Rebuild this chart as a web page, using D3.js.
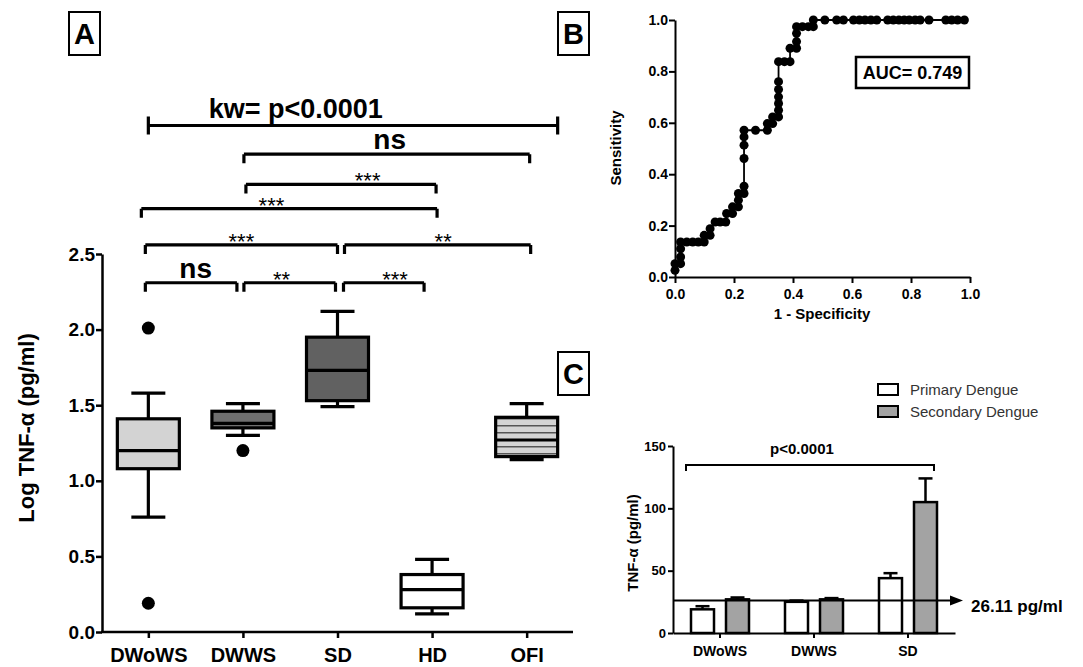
<!DOCTYPE html>
<html>
<head>
<meta charset="utf-8">
<script src="https://cdn.jsdelivr.net/npm/d3@7"></script>
<style>
  body { margin: 0; background: #fff; }
  svg { display: block; font-family: "Liberation Sans", Arial, sans-serif; }
</style>
</head>
<body>
<svg id="fig" width="1083" height="667"></svg>
<script>
// ---- Panel A: box plots (log TNF-alpha) ----
const groupsA = ['DWoWS', 'DWWS', 'SD', 'HD', 'OFI'];
const whiskLo = [0.76, 1.30, 1.49, 0.12, 1.14];
const boxQ1 = [1.08, 1.35, 1.53, 0.16, 1.16];
const boxMed = [1.20, 1.38, 1.73, 0.28, 1.27];
const boxQ3 = [1.41, 1.46, 1.95, 0.38, 1.42];
const whiskHi = [1.58, 1.51, 2.12, 0.48, 1.51];
const outlierGroup = ['DWoWS', 'DWoWS', 'DWWS'];
const outlierVal = [2.01, 0.19, 1.20];
const yTicksA = [0, 0.5, 1.0, 1.5, 2.0, 2.5];

// pairwise comparisons drawn above the boxes
const cmpFrom = [0, 1, 2, 0, 2, 0, 1, 1, 0];
const cmpTo = [1, 2, 3, 2, 4, 3, 3, 4, 4];
const cmpLevel = [2.31, 2.31, 2.31, 2.56, 2.56, 2.80, 2.96, 3.16, 3.35];
const cmpLabel = ['ns', '**', '***', '***', '**', '***', '***', 'ns', 'kw= p<0.0001'];

// ---- Panel B: ROC curve ----
const rocFpr = [0, 0, 0.019, 0.019, 0.019, 0.019, 0.040, 0.060, 0.079, 0.099, 0.099, 0.119, 0.119,
  0.136, 0.153, 0.172, 0.175, 0.195, 0.195, 0.215, 0.215, 0.215, 0.234, 0.234, 0.234, 0.234,
  0.234, 0.234, 0.273, 0.313, 0.313, 0.331, 0.331, 0.351, 0.351, 0.351, 0.351, 0.351, 0.351,
  0.351, 0.371, 0.390, 0.390, 0.412, 0.412, 0.412, 0.412, 0.432, 0.452, 0.469, 0.469,
  0.508, 0.548, 0.571, 0.605, 0.625, 0.644, 0.664, 0.684, 0.721, 0.740, 0.759, 0.777,
  0.794, 0.814, 0.831, 0.861, 0.918, 0.938, 0.958, 0.981];
const rocTpr = [0.026, 0.052, 0.052, 0.078, 0.110, 0.136, 0.136, 0.136, 0.136, 0.136, 0.162, 0.162, 0.188,
  0.214, 0.214, 0.214, 0.247, 0.247, 0.273, 0.273, 0.299, 0.325, 0.325, 0.353, 0.461, 0.513,
  0.545, 0.571, 0.571, 0.571, 0.597, 0.597, 0.623, 0.623, 0.649, 0.675, 0.701, 0.730, 0.760,
  0.838, 0.838, 0.838, 0.890, 0.890, 0.916, 0.948, 0.974, 0.974, 0.974, 0.974, 1.0,
  1, 1, 1, 1, 1, 1, 1, 1, 1, 1, 1, 1,
  1, 1, 1, 1, 1, 1, 1, 1];
const rocTicks = [0, 0.2, 0.4, 0.6, 0.8, 1.0];
const aucText = 'AUC= 0.749';

// ---- Panel C: bars by infection type ----
const groupsC = ['DWoWS', 'DWWS', 'SD'];
const seriesC = ['Primary Dengue', 'Secondary Dengue'];
const primaryMean = [19, 25, 44];
const primaryTop = [21.5, 26, 48];
const secondaryMean = [27, 27, 105];
const secondaryTop = [28.5, 28, 124];
const yTicksC = [0, 50, 100, 150];
const cutoff = 26.11;

const svg = d3.select('#fig');

// panel letters
[['A', 69, 12], ['B', 558, 12], ['C', 558, 352]].forEach(([t, x, y]) => {
  svg.append('rect').attr('x', x).attr('y', y).attr('width', 31).attr('height', 43)
    .attr('fill', '#fff').attr('stroke', '#000').attr('stroke-width', 2);
  svg.append('text').attr('x', x + 15.5).attr('y', y + 32).attr('text-anchor', 'middle')
    .attr('font-size', 29).attr('font-weight', 'bold').text(t);
});

// ======== Panel A ========
const xA = d3.scalePoint().domain(groupsA).range([102, 573]).padding(0.49);
const yA = d3.scaleLinear().domain([0, 2.5]).range([632, 254]);
const gA = svg.append('g');

gA.append('g')
  .attr('transform', 'translate(102,0)')
  .call(d3.axisLeft(yA).tickValues(yTicksA).tickFormat(d3.format('.1f')).tickSize(6).tickSizeOuter(0))
  .call(g => g.selectAll('text').attr('font-size', 19).attr('font-weight', 'bold').attr('fill', '#000').attr('x', -7))
  .call(g => g.selectAll('line,path').attr('stroke', '#000').attr('stroke-width', 2.5))
  .call(g => g.attr('font-family', null));

gA.append('g')
  .attr('transform', 'translate(0,632)')
  .call(d3.axisBottom(xA).tickSize(6).tickSizeOuter(0))
  .call(g => g.select('.domain').attr('d', 'M101,0H573'))
  .call(g => g.selectAll('text').attr('font-size', 20).attr('font-weight', 'bold').attr('fill', '#000').attr('dy', '1.05em'))
  .call(g => g.selectAll('line,path').attr('stroke', '#000').attr('stroke-width', 2.5))
  .call(g => g.attr('font-family', null));

gA.append('text')
  .attr('transform', 'translate(34,428) rotate(-90)')
  .attr('text-anchor', 'middle').attr('font-size', 22).attr('font-weight', 'bold')
  .text('Log TNF-α (pg/ml)');

// stripe pattern for OFI
const defs = svg.append('defs');
const pat = defs.append('pattern').attr('id', 'stripes').attr('patternUnits', 'userSpaceOnUse')
  .attr('width', 10).attr('height', 7);
pat.append('rect').attr('width', 10).attr('height', 7).attr('fill', '#d4d4d4');
pat.append('rect').attr('y', 5).attr('width', 10).attr('height', 1.5).attr('fill', '#555');

const boxFill = ['#d3d3d3', '#6f6f6f', '#616161', '#ffffff', 'url(#stripes)'];
const boxW = 62, capW = 34;

groupsA.forEach((g, i) => {
  const cx = xA(g);
  const s = gA.append('g').attr('stroke', '#000').attr('stroke-width', 3.2);
  s.append('line').attr('x1', cx).attr('x2', cx).attr('y1', yA(whiskHi[i])).attr('y2', yA(boxQ3[i]));
  s.append('line').attr('x1', cx).attr('x2', cx).attr('y1', yA(whiskLo[i])).attr('y2', yA(boxQ1[i]));
  s.append('line').attr('x1', cx - capW / 2).attr('x2', cx + capW / 2).attr('y1', yA(whiskHi[i])).attr('y2', yA(whiskHi[i]));
  s.append('line').attr('x1', cx - capW / 2).attr('x2', cx + capW / 2).attr('y1', yA(whiskLo[i])).attr('y2', yA(whiskLo[i]));
  s.append('rect').attr('x', cx - boxW / 2).attr('y', yA(boxQ3[i]))
    .attr('width', boxW).attr('height', yA(boxQ1[i]) - yA(boxQ3[i]))
    .attr('fill', boxFill[i]);
  s.append('line').attr('x1', cx - boxW / 2).attr('x2', cx + boxW / 2).attr('y1', yA(boxMed[i])).attr('y2', yA(boxMed[i]));
});

gA.selectAll('.outlier').data(outlierVal).join('circle')
  .attr('class', 'outlier')
  .attr('cx', (d, i) => xA(outlierGroup[i]))
  .attr('cy', d => yA(d))
  .attr('r', 6.5).attr('fill', '#000');

// comparison brackets (pixel insets and label placement)
const cmpInsetL = [-3, 1, 6, -3, 7, -7, 3, 1, 0];
const cmpInsetR = [-6, -2, -8, 0, 4, 5, 4, 3, 31];
const cmpTextPos = [0.55, 0.41, 0.64, 0.50, 0.53, 0.44, 0.64, 0.51, 0.36];

cmpLabel.forEach((lab, i) => {
  const x1 = xA(groupsA[cmpFrom[i]]) + cmpInsetL[i];
  const x2 = xA(groupsA[cmpTo[i]]) + cmpInsetR[i];
  const y = yA(cmpLevel[i]);
  const isKw = lab.startsWith('kw');
  const top = isKw ? y - 9 : y;
  gA.append('path')
    .attr('d', `M${x1},${y + 9}V${top}M${x1},${y}H${x2}M${x2},${top}V${y + 9}`)
    .attr('fill', 'none').attr('stroke', '#000').attr('stroke-width', 3.2);
  const tx = x1 + (x2 - x1) * cmpTextPos[i];
  const t = gA.append('text').attr('x', tx).attr('text-anchor', 'middle').text(lab);
  if (isKw) {
    t.attr('y', y - 7).attr('font-size', 27).attr('font-weight', 'bold');
  } else if (lab === 'ns') {
    t.attr('y', y - 5).attr('font-size', 28).attr('font-weight', 'bold');
  } else {
    t.attr('y', y + 4).attr('font-size', 22);
  }
});

// ======== Panel B ========
const xB = d3.scaleLinear().domain([0, 1]).range([675, 970]);
const yB = d3.scaleLinear().domain([0, 1]).range([277, 20]);
const gB = svg.append('g');

gB.append('g').attr('transform', 'translate(0,277)')
  .call(d3.axisBottom(xB).tickValues(rocTicks).tickFormat(d3.format('.1f')).tickSize(6).tickSizeOuter(0))
  .call(g => g.selectAll('text').attr('font-size', 14).attr('font-weight', 'bold').attr('fill', '#000').attr('dy', '0.95em'))
  .call(g => g.selectAll('line,path').attr('stroke', '#000').attr('stroke-width', 2))
  .call(g => g.attr('font-family', null));

gB.append('g').attr('transform', 'translate(675,0)')
  .call(d3.axisLeft(yB).tickValues(rocTicks).tickFormat(d3.format('.1f')).tickSize(6).tickSizeOuter(0))
  .call(g => g.selectAll('text').attr('font-size', 14).attr('font-weight', 'bold').attr('fill', '#000').attr('x', -7))
  .call(g => g.selectAll('line,path').attr('stroke', '#000').attr('stroke-width', 2))
  .call(g => g.attr('font-family', null));

gB.append('text').attr('transform', 'translate(621,148) rotate(-90)')
  .attr('text-anchor', 'middle').attr('font-size', 15).attr('font-weight', 'bold').text('Sensitivity');
gB.append('text').attr('x', 822).attr('y', 319)
  .attr('text-anchor', 'middle').attr('font-size', 15).attr('font-weight', 'bold').text('1 - Specificity');

const rocPts = rocFpr.map((f, i) => [f, rocTpr[i]]);
gB.append('path').datum(rocPts)
  .attr('d', d3.line().x(d => xB(d[0])).y(d => yB(d[1])))
  .attr('fill', 'none').attr('stroke', '#000').attr('stroke-width', 1.8);
gB.selectAll('.roc').data(rocPts).join('circle')
  .attr('class', 'roc')
  .attr('cx', d => xB(d[0])).attr('cy', d => yB(d[1]))
  .attr('r', 4.5).attr('fill', '#000');

gB.append('rect').attr('x', 856).attr('y', 57).attr('width', 113).attr('height', 31)
  .attr('fill', '#fff').attr('stroke', '#000').attr('stroke-width', 2.5);
gB.append('text').attr('x', 912.5).attr('y', 79).attr('text-anchor', 'middle')
  .attr('font-size', 18).attr('font-weight', 'bold').text(aucText);

// ======== Panel C ========
const xC = d3.scaleBand().domain(groupsC).range([673, 955]);
const yC = d3.scaleLinear().domain([0, 150]).range([633, 446]);
const gC = svg.append('g');

gC.append('g').attr('transform', 'translate(673,0)')
  .call(d3.axisLeft(yC).tickValues(yTicksC).tickSize(5).tickSizeOuter(0))
  .call(g => g.selectAll('text').attr('font-size', 13).attr('font-weight', 'bold').attr('fill', '#000').attr('x', -7))
  .call(g => g.selectAll('line,path').attr('stroke', '#000').attr('stroke-width', 2))
  .call(g => g.attr('font-family', null));

gC.append('g').attr('transform', 'translate(0,633)')
  .call(d3.axisBottom(xC).tickSize(5).tickSizeOuter(0))
  .call(g => g.selectAll('text').attr('font-size', 14).attr('font-weight', 'bold').attr('fill', '#000').attr('dy', '1.05em'))
  .call(g => g.selectAll('line,path').attr('stroke', '#000').attr('stroke-width', 2))
  .call(g => g.attr('font-family', null));

gC.append('text').attr('transform', 'translate(638,543) rotate(-90)')
  .attr('text-anchor', 'middle').attr('font-size', 15).attr('font-weight', 'bold').text('TNF-α (pg/ml)');

const barW = 23, barOff = 17.5;
const barData = [];
groupsC.forEach((g, i) => {
  barData.push({ g, off: -barOff, v: primaryMean[i], top: primaryTop[i], fill: '#fff' });
  barData.push({ g, off: barOff, v: secondaryMean[i], top: secondaryTop[i], fill: '#a3a3a3' });
});

barData.forEach(d => {
  const cx = xC(d.g) + xC.bandwidth() / 2 + d.off;
  gC.append('line').attr('x1', cx).attr('x2', cx).attr('y1', yC(d.v)).attr('y2', yC(d.top))
    .attr('stroke', '#000').attr('stroke-width', 2.5);
  gC.append('line').attr('x1', cx - 7).attr('x2', cx + 7).attr('y1', yC(d.top)).attr('y2', yC(d.top))
    .attr('stroke', '#000').attr('stroke-width', 2.5);
  gC.append('rect').attr('x', cx - barW / 2).attr('y', yC(d.v))
    .attr('width', barW).attr('height', yC(0) - yC(d.v))
    .attr('fill', d.fill).attr('stroke', '#000').attr('stroke-width', 2.5);
});

// cutoff arrow
const yCut = yC(cutoff);
gC.append('line').attr('x1', 673).attr('x2', 952).attr('y1', yCut).attr('y2', yCut)
  .attr('stroke', '#000').attr('stroke-width', 2);
gC.append('path').attr('d', `M950,${yCut - 5}L963,${yCut}L950,${yCut + 5}Z`).attr('fill', '#000');
gC.append('text').attr('x', 971).attr('y', yCut + 12).attr('font-size', 17).attr('font-weight', 'bold')
  .text(cutoff + ' pg/ml');

// p-value bracket
const pL = xC(groupsC[0]) + xC.bandwidth() / 2 - barOff - barW / 2 - 5;
const pR = xC(groupsC[2]) + xC.bandwidth() / 2 + barOff + barW / 2 - 3;
gC.append('path').attr('d', `M${pL},471V465H${pR}V471`)
  .attr('fill', 'none').attr('stroke', '#000').attr('stroke-width', 2);
gC.append('text').attr('x', 802).attr('y', 454).attr('text-anchor', 'middle')
  .attr('font-size', 15).attr('font-weight', 'bold').text('p<0.0001');

// legend
const legFill = ['#fff', '#a3a3a3'];
seriesC.forEach((s, i) => {
  const y = 384 + i * 22;
  gC.append('rect').attr('x', 878).attr('y', y).attr('width', 20).attr('height', 11)
    .attr('fill', legFill[i]).attr('stroke', '#000').attr('stroke-width', 2);
  gC.append('text').attr('x', 910).attr('y', y + 11).attr('font-size', 15).attr('fill', '#333').text(s);
});
</script>
</body>
</html>
